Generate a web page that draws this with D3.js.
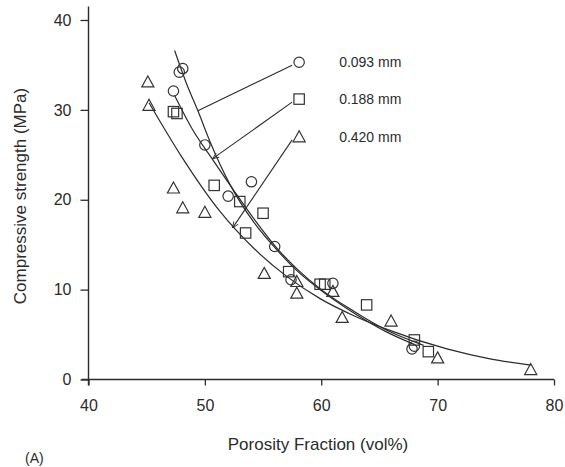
<!DOCTYPE html>
<html><head><meta charset="utf-8">
<script src="https://cdn.jsdelivr.net/npm/d3@7"></script>
<style>
body{margin:0;background:#fff}
svg{display:block}
text{font-family:"Liberation Sans",Arial,Helvetica,sans-serif;fill:#2b2b2b}
</style>
</head><body><svg id="c" width="565" height="467"></svg>
<script>
// ---------- data ----------
const xTicks = [40, 50, 60, 70, 80];
const yTicks = [0, 10, 20, 30, 40];
const seriesNames = ["0.093 mm", "0.188 mm", "0.420 mm"];
const xTitle = "Porosity Fraction (vol%)";
const yTitle = "Compressive strength (MPa)";
const panelLabel = "(A)";

// measured points [porosity, strength]
const circlePts = [[47.8,34.2],[48.1,34.6],[47.3,32.1],[50.0,26.1],[52.0,20.4],[54.0,22.0],
  [56.0,14.8],[57.4,11.1],[61.0,10.7],[67.8,3.4],[68.0,3.7]];
const squarePts = [[47.3,29.8],[47.6,29.6],[50.8,21.6],[53.0,19.8],[53.5,16.3],[55.0,18.5],
  [57.2,12.0],[59.9,10.6],[60.3,10.6],[63.9,8.3],[68.0,4.4],[69.2,3.1]];
const trianglePts = [[45.1,33.1],[45.2,30.5],[47.3,21.3],[48.1,19.1],[50.0,18.6],[55.1,11.8],
  [57.9,10.9],[57.9,9.6],[61.0,9.8],[61.8,6.9],[66.0,6.5],[70.0,2.4],[78.0,1.1]];

// fitted curves
const circleCurve = [[47.4,36.6],[48.4,33.0],[49.4,29.9],[50.4,26.6],[52.2,21.6],[54.2,17.5],
  [56.2,14.4],[58.0,12.0],[60.0,9.9],[62.8,7.4],[65.6,5.3],[68.0,3.9]];
const squareCurve = [[47.4,31.6],[48.9,27.9],[50.7,24.4],[52.5,21.0],[54.2,17.9],[56.2,14.6],
  [58.0,12.2],[60.0,10.0],[62.8,7.6],[65.6,5.5],[68.8,3.8]];
const triangleCurve = [[45.2,30.8],[47.9,25.0],[51.3,18.7],[54.2,14.6],[57.0,11.5],[59.9,9.0],
  [62.8,7.1],[65.6,5.6],[70.8,3.4],[74.5,2.3],[78.0,1.6]];

// legend marker anchors (data coords) and leader targets on curves
const legendAnchor = [[58.1,35.3],[58.1,31.2],[58.1,27.0]];
const leaderTarget = [[49.4,29.9],[50.7,24.6],[52.4,16.9]];

// ---------- drawing ----------
const svg = d3.select("#c");
const x = d3.scaleLinear().domain([40, 80]).range([88.5, 554]);
const y = d3.scaleLinear().domain([0, 40]).range([379.5, 20]);
const ink = "#2b2b2b";

// axes
const gx = svg.append("g").attr("transform", `translate(0,${y(0)})`)
  .call(d3.axisBottom(x).tickValues(xTicks).tickSize(6).tickPadding(14).tickSizeOuter(0));
const gy = svg.append("g").attr("transform", `translate(${x(40)},0)`)
  .call(d3.axisLeft(y).tickValues(yTicks).tickSize(8).tickPadding(9).tickSizeOuter(0));
[gx, gy].forEach(g => {
  g.select(".domain").remove();
  g.selectAll("line").attr("stroke", ink).attr("stroke-width", 1.3);
  g.selectAll("text").attr("font-size", 16).attr("fill", ink)
    .attr("font-family", '"Liberation Sans",Arial,sans-serif');
});
// axis lines (extended as in the figure)
svg.append("line").attr("x1", x(40)).attr("x2", x(40)).attr("y1", y(41.5)).attr("y2", y(0) + 6)
  .attr("stroke", ink).attr("stroke-width", 1.4);
svg.append("line").attr("x1", x(40) - 7).attr("x2", x(80)).attr("y1", y(0)).attr("y2", y(0))
  .attr("stroke", ink).attr("stroke-width", 1.4);

// titles
svg.append("text").attr("x", 318).attr("y", 450).attr("text-anchor", "middle")
  .attr("font-size", 17).text(xTitle);
svg.append("text").attr("transform", `translate(26,${196}) rotate(-90)`).attr("text-anchor", "middle")
  .attr("font-size", 17).text(yTitle);
svg.append("text").attr("x", 25).attr("y", 463).attr("font-size", 14).text(panelLabel);

// curves
const line = d3.line().x(d => x(d[0])).y(d => y(d[1])).curve(d3.curveMonotoneX);
[circleCurve, squareCurve, triangleCurve].forEach(c => {
  svg.append("path").attr("d", line(c)).attr("fill", "none").attr("stroke", ink).attr("stroke-width", 1.2);
});

// markers
const triPath = (cx, cy, s) => `M${cx},${cy - s * 0.55}L${cx + s * 0.55},${cy + s * 0.45}L${cx - s * 0.55},${cy + s * 0.45}Z`;
function drawMarker(g, kind, cx, cy) {
  if (kind === 0) g.append("circle").attr("cx", cx).attr("cy", cy).attr("r", 5.2);
  else if (kind === 1) g.append("rect").attr("x", cx - 5.2).attr("y", cy - 5.2).attr("width", 10.4).attr("height", 10.4);
  else g.append("path").attr("d", triPath(cx, cy, 11));
}
const mg = svg.append("g").attr("fill", "none").attr("stroke", "#333").attr("stroke-width", 1.2);
[circlePts, squarePts, trianglePts].forEach((pts, k) => {
  pts.forEach(p => drawMarker(mg, k, x(p[0]), y(p[1])));
});

// legend
svg.append("defs").append("marker").attr("id", "arr").attr("viewBox", "0 0 10 10")
  .attr("refX", 9).attr("refY", 5).attr("markerWidth", 6).attr("markerHeight", 6)
  .attr("orient", "auto").append("path").attr("d", "M0,1L10,5L0,9").attr("fill", "none")
  .attr("stroke", ink).attr("stroke-width", 1.3);
seriesNames.forEach((name, k) => {
  const ax = x(legendAnchor[k][0]), ay = y(legendAnchor[k][1]);
  drawMarker(mg, k, ax, ay);
  svg.append("line").attr("x1", ax - 7).attr("y1", ay + 3)
    .attr("x2", x(leaderTarget[k][0])).attr("y2", y(leaderTarget[k][1]))
    .attr("stroke", ink).attr("stroke-width", 1.1)
    .attr("marker-end", k === 0 ? null : "url(#arr)");
  svg.append("text").attr("x", ax + 40).attr("y", ay + 5).attr("font-size", 14).text(name);
});
</script>
</body></html>
